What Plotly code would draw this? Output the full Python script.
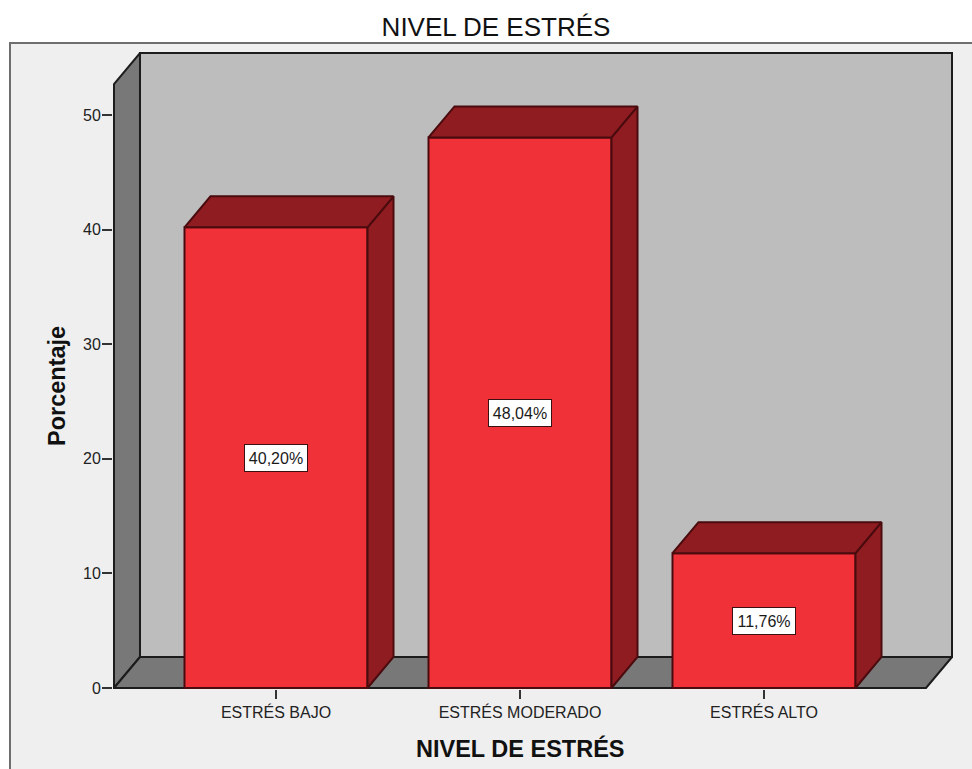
import plotly.graph_objects as go

categories = ["ESTRÉS BAJO", "ESTRÉS MODERADO", "ESTRÉS ALTO"]
values = [40.20, 48.04, 11.76]
labels = ["40,20%", "48,04%", "11,76%"]
y_ticks = [0, 10, 20, 30, 40, 50]

FONT = "Liberation Sans"
BAR_W = 0.75
DX, DY = 26 / 244, 31 / 11.46        # oblique depth in axis units
X_FRONT = (-0.664, 2.664)
Y_FRONT_TOP = 52.7
EDGE = "#1c1c1c"
BAR_EDGE = "#4a0b0e"
PLOT_W, PLOT_H = 840, 637
xs = list(range(len(categories)))


def poly(points):
    return "M " + " L ".join(f"{x},{y}" for x, y in points) + " Z"


def px(x):
    return (x - 113) / PLOT_W


def py(y):
    return (689 - y) / PLOT_H


x0, x1 = X_FRONT
left_wall = [(x0, 0), (x0 + DX, DY), (x0 + DX, Y_FRONT_TOP + DY), (x0, Y_FRONT_TOP)]
floor = [(x0, 0), (x1, 0), (x1 + DX, DY), (x0 + DX, DY)]
back_wall = [(x0 + DX, DY), (x1 + DX, DY), (x1 + DX, Y_FRONT_TOP + DY), (x0 + DX, Y_FRONT_TOP + DY)]

shapes = [
    dict(type="rect", xref="paper", yref="paper", layer="below",
         x0=px(10), x1=px(975), y0=py(772), y1=py(43),
         fillcolor="#efefef", line=dict(color="#6e6e6e", width=2)),
    dict(type="path", layer="below", path=poly(back_wall), fillcolor="#bdbdbd", line=dict(color=EDGE, width=2)),
    dict(type="path", layer="below", path=poly(left_wall), fillcolor="#787878", line=dict(color=EDGE, width=2)),
    dict(type="path", layer="below", path=poly(floor), fillcolor="#787878", line=dict(color=EDGE, width=2)),
]

fig = go.Figure()
fig.add_trace(go.Bar(x=xs, y=values, width=BAR_W, marker=dict(color="#f03238", line=dict(color=BAR_EDGE, width=2)),
                     hoverinfo="skip", showlegend=False))

for x, v in zip(xs, values):
    l, r = x - BAR_W / 2, x + BAR_W / 2
    top = [(l, v), (r, v), (r + DX, v + DY), (l + DX, v + DY), (l, v)]
    side = [(r, 0), (r + DX, DY), (r + DX, v + DY), (r, v), (r, 0)]
    for face, color in ((side, "#8f1c21"), (top, "#8f1c21")):
        fig.add_trace(go.Scatter(x=[p[0] for p in face], y=[p[1] for p in face], mode="lines", fill="toself",
                                 fillcolor=color, line=dict(color=BAR_EDGE, width=2), hoverinfo="skip",
                                 showlegend=False))

annotations = [
    dict(x=x, y=v / 2, text=t, showarrow=False, bgcolor="white", bordercolor="#3a1010", borderwidth=1,
         borderpad=0, width=62, height=26, font=dict(family=FONT, size=16, color="#1a1a1a"))
    for x, v, t in zip(xs, values, labels)
]
annotations += [
    dict(xref="paper", yref="paper", x=px(520), y=py(748), text="<b>NIVEL DE ESTRÉS</b>", showarrow=False,
         xanchor="center", yanchor="middle", font=dict(family=FONT, size=23.5, color="#111")),
    dict(xref="paper", yref="paper", x=px(57), y=py(386), text="<b>Porcentaje</b>", showarrow=False, textangle=-90,
         xanchor="center", yanchor="middle", font=dict(family=FONT, size=23.5, color="#111")),
]

fig.update_layout(
    width=972, height=769, paper_bgcolor="white", plot_bgcolor="rgba(0,0,0,0)",
    margin=dict(l=113, r=19, t=52, b=80, autoexpand=False),
    title=dict(text="NIVEL DE ESTRÉS", x=496 / 972, xanchor="center", y=1 - 27 / 769, yanchor="middle",
               font=dict(family=FONT, size=26, color="#111")),
    shapes=shapes, annotations=annotations, showlegend=False,
    xaxis=dict(range=[(113 - 276) / 244, (953 - 276) / 244], tickvals=xs, ticktext=categories, ticks="outside",
               ticklen=9, tickwidth=2, tickcolor="#333", showgrid=False, zeroline=False, showline=False,
               tickfont=dict(family=FONT, size=16, color="#222")),
    yaxis=dict(range=[-1 / 11.46, (688 - 52) / 11.46], tickvals=y_ticks, ticks="outside", ticklen=10, tickwidth=2,
               tickcolor="#333", showgrid=False, zeroline=False, showline=False, ticklabelstandoff=-2,
               tickfont=dict(family=FONT, size=16, color="#222")),
)

fig.write_html("out.html", config=dict(displayModeBar=False),
               post_script="document.body.style.margin='0';")
